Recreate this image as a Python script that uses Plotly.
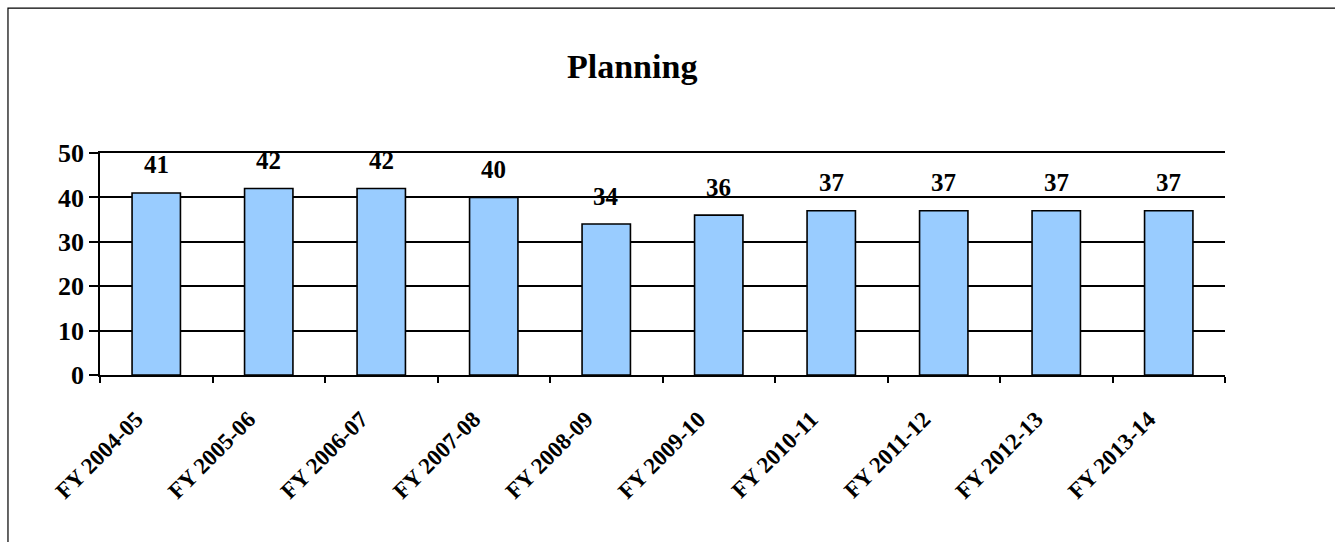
import plotly.graph_objects as go

# Planning counts by fiscal year
fiscal_years = ["FY 2004-05", "FY 2005-06", "FY 2006-07", "FY 2007-08", "FY 2008-09",
                "FY 2009-10", "FY 2010-11", "FY 2011-12", "FY 2012-13", "FY 2013-14"]
planning = [41, 42, 42, 40, 34, 36, 37, 37, 37, 37]
y_ticks = [0, 10, 20, 30, 40, 50]

SERIF = "Liberation Serif, Times New Roman, serif"

fig = go.Figure()
fig.add_trace(go.Bar(
    x=fiscal_years,
    y=planning,
    width=0.43,
    marker=dict(color="#99CCFF", line=dict(color="black", width=1.6)),
    hoverinfo="x+y",
))

# value labels floating above each bar
annotations = [
    dict(x=fy, y=v, xref="x", yref="y", text=str(v), showarrow=False,
         yanchor="middle", yshift=28,
         font=dict(family=SERIF, size=25, color="black", weight="bold"))
    for fy, v in zip(fiscal_years, planning)
]
annotations.append(dict(
    x=0.473, y=1.0, xref="paper", yref="paper", yanchor="middle", xanchor="center",
    yshift=87, text="Planning", showarrow=False,
    font=dict(family=SERIF, size=34, color="black", weight="bold")))

fig.update_layout(
    width=1335, height=542,
    margin=dict(l=100, r=110, t=153, b=167),
    paper_bgcolor="white", plot_bgcolor="white",
    showlegend=False,
    annotations=annotations,
    shapes=[dict(type="rect", xref="paper", yref="paper",
                 x0=-0.0818, x1=1.6, y0=-1.0, y1=1.653,
                 line=dict(color="black", width=1.2), layer="below")],
    xaxis=dict(
        type="category", tickson="boundaries", ticks="outside", ticklen=6,
        tickcolor="black", tickwidth=1.5, showgrid=False,
        showline=True, linecolor="black", linewidth=1.5, mirror=True,
        tickangle=-45, ticklabelstandoff=20, ticklabelshift=-20,
        tickfont=dict(family=SERIF, size=23, color="black", weight="bold"),
    ),
    yaxis=dict(
        range=[0, 50], tickvals=y_ticks, ticks="outside", ticklen=9,
        tickcolor="black", tickwidth=1.5,
        showgrid=True, gridcolor="black", gridwidth=1.5,
        showline=True, linecolor="black", linewidth=1.5,
        tickfont=dict(family=SERIF, size=26, color="black", weight="bold"),
        zeroline=False,
    ),
)

fig.write_html("out.html")
